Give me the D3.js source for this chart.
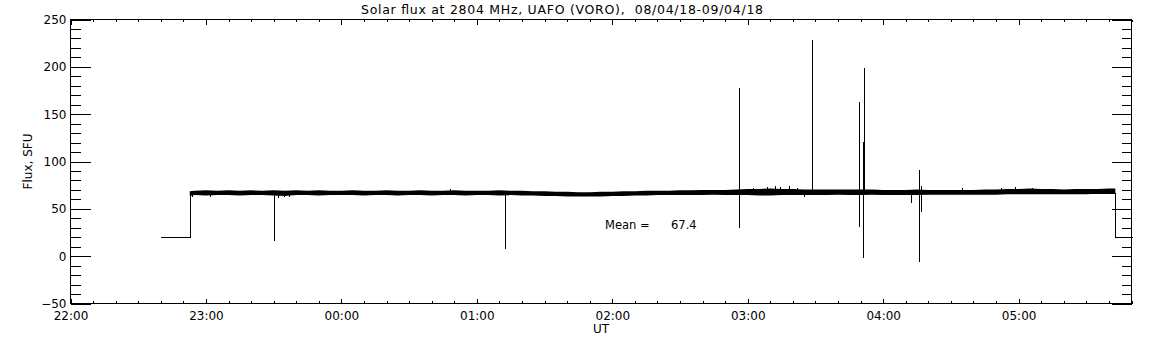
<!DOCTYPE html>
<html>
<head>
<meta charset="utf-8">
<script src="https://cdn.jsdelivr.net/npm/d3@7"></script>
<style>
  body { margin: 0; background: #fff; }
  svg text { font-family: "DejaVu Sans", sans-serif; fill: #000; }
  .axis path { display: none; }
  .axis line { stroke: #000; stroke-width: 1; shape-rendering: crispEdges; }
</style>
</head>
<body>
<svg id="chart" width="1152" height="345"></svg>
<script>
// UT times, hh:mm or hh:mm:ss (times before noon belong to the next day)
var stepTimes  = ['22:39:30', '22:52:50', '22:52:50', '05:42:50', '05:42:50', '05:50:00'];
var stepValues = [20, 20, 67, 67, 20, 20];

// envelope of the dense 1 s record, read every 5 minutes
var bandTimes = ['22:52:50', '22:55', '23:00', '23:05', '23:10', '23:15', '23:20', '23:25', '23:30', '23:35',
  '23:40', '23:45', '23:50', '23:55', '00:00', '00:05', '00:10', '00:15', '00:20', '00:25', '00:30', '00:35',
  '00:40', '00:45', '00:50', '00:55', '01:00', '01:05', '01:10', '01:15', '01:20', '01:25', '01:30', '01:35',
  '01:40', '01:45', '01:50', '01:55', '02:00', '02:05', '02:10', '02:15', '02:20', '02:25', '02:30', '02:35',
  '02:40', '02:45', '02:50', '02:55', '03:00', '03:05', '03:10', '03:15', '03:20', '03:25', '03:30', '03:35',
  '03:40', '03:45', '03:50', '03:55', '04:00', '04:05', '04:10', '04:15', '04:20', '04:25', '04:30', '04:35',
  '04:40', '04:45', '04:50', '04:55', '05:00', '05:05', '05:10', '05:15', '05:20', '05:25', '05:30', '05:35',
  '05:40', '05:42:50'];
var bandHigh = [68.5, 69, 69.5, 69, 69.5, 69, 69.5, 69, 69.5, 69,
  69.5, 69, 69.5, 69, 69, 69.5, 69, 69, 69.5, 69, 69, 69.5,
  69, 69, 69.5, 69, 69, 69, 69.5, 69, 69, 68.5, 68.5, 68,
  68, 67.5, 67.5, 68, 68, 68.5, 68.5, 69, 69, 69, 69.5, 69.5,
  70, 70, 70, 70.5, 71, 71, 71.5, 71, 71, 70.5, 70.5, 70.5,
  70.5, 70.5, 70.5, 70.5, 70, 70, 70, 70.5, 70, 70, 70, 70,
  70, 70.5, 70.5, 71, 71, 71.5, 71, 71, 70.5, 71, 71, 71,
  71.5, 71.5];
var bandLow = [63.5, 64.5, 64, 64.5, 64.5, 64, 64.5, 64.5, 64, 63.5,
  64.5, 64.5, 64, 64.5, 64.5, 64.5, 64, 64.5, 64.5, 64, 64.5, 64.5,
  64, 64.5, 64.5, 64, 64.5, 64.5, 64, 64.5, 64, 64, 63.5, 63.5,
  63, 63, 63, 63, 63.5, 63.5, 64, 64, 64.5, 64.5, 64.5, 64.5,
  64.5, 65, 64.5, 64.5, 64.5, 64, 64, 64.5, 64.5, 64.5, 64.5, 64.5,
  65, 64.5, 64.5, 65, 64.5, 64.5, 64.5, 64.5, 65, 65, 65, 65,
  65, 65, 65, 65.5, 65.5, 65.5, 65.5, 65.5, 65.5, 65.5, 65.5, 66,
  66, 66];

// short excursions: time, lowest and highest flux
var spikeTimes = ['22:53:40', '23:02:00', '23:30:00', '23:32:00', '23:34:40', '23:37:00', '00:48:00',
  '01:12:25', '02:55:55', '03:02:30', '03:08:30', '03:12:00', '03:14:30', '03:18:30', '03:22:00',
  '03:25:00', '03:28:40', '03:49:05', '03:50:55', '03:51:40', '04:12:10', '04:16:05', '04:16:35',
  '04:16:50', '04:35:00', '04:52:00', '04:58:30', '05:06:00'];
var spikeLow  = [63, 63, 16.4, 61.5, 62, 62.5, 66, 7.6, 30.1, 66, 66, 66, 66, 66, 66,
  62.5, 66, 31.2, -1.6, 65, 56.5, -6.5, 46.4, 60, 66, 66, 66, 66];
var spikeHigh = [68, 68, 66, 66, 66, 66, 70.5, 66, 177.3, 72.5, 73, 74, 73.5, 74.5, 72.5,
  68, 228.4, 162.9, 120.6, 198.5, 66, 91.1, 74, 70, 72, 72.5, 73, 72.5];

var yMajor = [-50, 0, 50, 100, 150, 200, 250];
var meanValue = 67.4;
var title = 'Solar flux at 2804 MHz, UAFO (VORO),  08/04/18-09/04/18';

function parseUT(s) {
  var p = s.split(':').map(Number);
  var day = p[0] < 12 ? 9 : 8;
  return new Date(Date.UTC(2018, 3, day, p[0], p[1], p[2] || 0));
}

var svg = d3.select('#chart');
var plot = {left: 70.5, right: 1131.5, top: 19.5, bottom: 303.5};

var x = d3.scaleUtc()
  .domain([parseUT('22:00'), parseUT('05:50')])
  .range([plot.left, plot.right]);
var y = d3.scaleLinear().domain([-50, 250]).range([plot.bottom, plot.top]);

var g = svg.append('g');

// data
var band = bandTimes.map(function(t, i) { return {t: parseUT(t), hi: bandHigh[i], lo: bandLow[i]}; });
g.append('path')
  .datum(band)
  .attr('fill', '#000')
  .attr('stroke', 'none')
  .attr('d', d3.area()
    .x(function(d) { return x(d.t); })
    .y0(function(d) { return y(d.lo); })
    .y1(function(d) { return y(d.hi); }));

var steps = stepTimes.map(function(t, i) { return {t: parseUT(t), v: stepValues[i]}; });
g.append('path')
  .datum(steps)
  .attr('fill', 'none')
  .attr('stroke', '#000')
  .attr('stroke-width', 1)
  .attr('shape-rendering', 'crispEdges')
  .attr('d', d3.line()
    .x(function(d) { return Math.round(x(d.t)) + 0.5; })
    .y(function(d) { return Math.round(y(d.v)) + 0.5; }));

g.selectAll('.spike')
  .data(spikeTimes)
  .enter().append('line')
  .attr('class', 'spike')
  .attr('x1', function(d) { return Math.round(x(parseUT(d))) + 0.5; })
  .attr('x2', function(d) { return Math.round(x(parseUT(d))) + 0.5; })
  .attr('y1', function(d, i) { return y(spikeLow[i]); })
  .attr('y2', function(d, i) { return y(spikeHigh[i]); })
  .attr('stroke', '#000')
  .attr('stroke-width', 1)
  .attr('shape-rendering', 'crispEdges');

// frame
svg.append('rect')
  .attr('x', plot.left).attr('y', plot.top)
  .attr('width', plot.right - plot.left).attr('height', plot.bottom - plot.top)
  .attr('fill', 'none').attr('stroke', '#000')
  .attr('shape-rendering', 'crispEdges');

var hours = d3.utcHour.every(1).range(x.domain()[0], x.domain()[1]);
var tenMin = d3.utcMinute.every(10).range(x.domain()[0], d3.utcMinute.offset(x.domain()[1], 1));
var yMinor = d3.range(-50, 251, 10);

svg.append('g').attr('class', 'axis')
  .attr('transform', 'translate(0,' + plot.bottom + ')')
  .call(d3.axisBottom(x).tickValues(tenMin).tickFormat('').tickSizeInner(-2.5).tickSizeOuter(0));
svg.append('g').attr('class', 'axis axis-x')
  .attr('transform', 'translate(0,' + plot.bottom + ')')
  .call(d3.axisBottom(x).tickValues(hours).tickFormat(d3.utcFormat('%H:%M'))
    .tickSizeInner(-5).tickSizeOuter(0).tickPadding(8))
  .selectAll('text').attr('font-size', 12).attr('font-family', null);

svg.append('g').attr('class', 'axis')
  .attr('transform', 'translate(0,' + plot.top + ')')
  .call(d3.axisTop(x).tickValues(tenMin).tickFormat('').tickSizeInner(-2.5).tickSizeOuter(0));
svg.append('g').attr('class', 'axis')
  .attr('transform', 'translate(0,' + plot.top + ')')
  .call(d3.axisTop(x).tickValues(hours).tickFormat('').tickSizeInner(-5).tickSizeOuter(0));

svg.append('g').attr('class', 'axis')
  .attr('transform', 'translate(' + plot.left + ',0)')
  .call(d3.axisLeft(y).tickValues(yMinor).tickFormat('').tickSizeInner(-10).tickSizeOuter(0));
svg.append('g').attr('class', 'axis axis-y')
  .attr('transform', 'translate(' + plot.left + ',0)')
  .call(d3.axisLeft(y).tickValues(yMajor).tickFormat(d3.format('d'))
    .tickSizeInner(-20).tickSizeOuter(0).tickPadding(4))
  .selectAll('text').attr('font-size', 12).attr('font-family', null);

svg.append('g').attr('class', 'axis')
  .attr('transform', 'translate(' + plot.right + ',0)')
  .call(d3.axisRight(y).tickValues(yMinor).tickFormat('').tickSizeInner(-10).tickSizeOuter(0));
svg.append('g').attr('class', 'axis')
  .attr('transform', 'translate(' + plot.right + ',0)')
  .call(d3.axisRight(y).tickValues(yMajor).tickFormat('').tickSizeInner(-20).tickSizeOuter(0));

// labels
svg.append('text')
  .attr('x', 361).attr('y', 14)
  .attr('font-size', 12.5)
  .attr('textLength', 402)
  .attr('lengthAdjust', 'spacing')
  .style('white-space', 'pre')
  .text(title);

svg.append('text')
  .attr('x', (plot.left + plot.right) / 2).attr('y', 333)
  .attr('text-anchor', 'middle')
  .attr('font-size', 12)
  .text('UT');

svg.append('text')
  .attr('transform', 'translate(32,' + ((plot.top + plot.bottom) / 2) + ') rotate(-90)')
  .attr('text-anchor', 'middle')
  .attr('font-size', 12)
  .text('Flux, SFU');

svg.append('text')
  .attr('x', 605).attr('y', 229)
  .attr('font-size', 11.5)
  .text('Mean =');
svg.append('text')
  .attr('x', 671).attr('y', 229)
  .attr('font-size', 11.5)
  .text(meanValue.toFixed(1));
</script>
</body>
</html>
